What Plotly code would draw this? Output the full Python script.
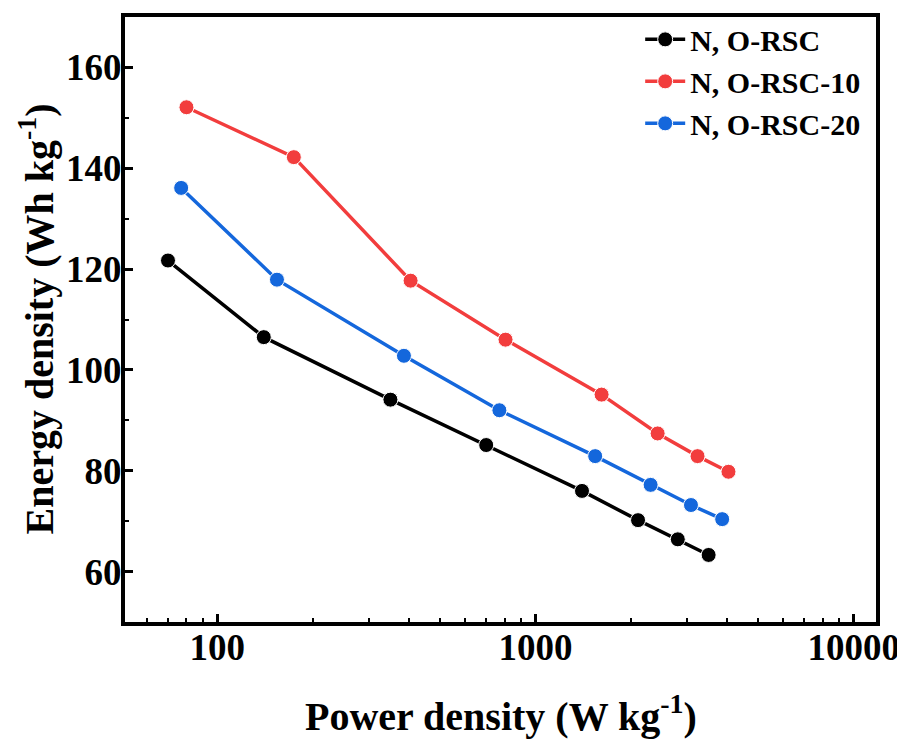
import plotly.graph_objects as go

# Data
series_names = ["N, O-RSC", "N, O-RSC-10", "N, O-RSC-20"]
power_rsc = [70, 140, 350, 700, 1400, 2100, 2800, 3500]
energy_rsc = [121.7, 106.5, 94.1, 85.1, 76.0, 70.2, 66.4, 63.3]
power_rsc10 = [80, 174, 405, 805, 1613, 2420, 3230, 4040]
energy_rsc10 = [152.1, 142.2, 117.7, 106.0, 95.1, 87.4, 82.9, 79.8]
power_rsc20 = [77, 154, 386, 770, 1540, 2300, 3080, 3860]
energy_rsc20 = [136.1, 117.9, 102.8, 92.0, 82.9, 77.2, 73.2, 70.4]
colors = ["#000000", "#F23D3D", "#1467DC"]
x_title = "Power density (W kg<sup>-1</sup>)"
y_title = "Energy density (Wh kg<sup>-1</sup>)"

FONT = "Times New Roman, Liberation Serif, serif"

fig = go.Figure()
for name, xs, ys, c in zip(series_names,
                           [power_rsc, power_rsc10, power_rsc20],
                           [energy_rsc, energy_rsc10, energy_rsc20],
                           colors):
    fig.add_trace(go.Scatter(
        x=xs, y=ys, name=name, mode="lines+markers",
        line=dict(color=c, width=3.5),
        marker=dict(color=c, size=15, line=dict(color="white", width=1)),
    ))

# page body has an 8px default margin, so the figure is sized to fit the window
fig.update_layout(
    width=897, height=732,
    margin=dict(l=117, r=29, t=9, b=118, autoexpand=False),
    plot_bgcolor="white", paper_bgcolor="white",
    font=dict(family=FONT, color="black", size=30),
    legend=dict(
        x=0.686, y=1.006, xanchor="left", yanchor="top",
        bgcolor="rgba(0,0,0,0)", borderwidth=0,
        font=dict(family=FONT, size=30, color="black", weight="bold"),
        tracegroupgap=0, itemwidth=40,
    ),
    showlegend=True,
    annotations=[
        dict(text=x_title, xref="paper", yref="paper", x=0.5, y=0,
             xanchor="center", yanchor="middle", yshift=-91, showarrow=False,
             font=dict(family=FONT, size=40, color="black", weight="bold")),
        dict(text=y_title, xref="paper", yref="paper", x=0, y=0.5,
             xanchor="center", yanchor="middle", xshift=-88, textangle=-90,
             showarrow=False,
             font=dict(family=FONT, size=40, color="black", weight="bold")),
    ],
)

fig.update_xaxes(
    type="log", range=[1.71, 4.07],
    dtick=1, tickformat="d", automargin=False,
    showline=True, linewidth=4, linecolor="black", mirror=True,
    showgrid=False, zeroline=False,
    ticks="inside", ticklen=8, tickwidth=3, tickcolor="black",
    ticklabelstandoff=-10,
    minor=dict(ticks="inside", ticklen=4, tickwidth=2, tickcolor="black", dtick="D1", showgrid=False),
    tickfont=dict(family=FONT, size=37, color="black", weight="bold"),
)

fig.update_yaxes(
    range=[50, 170],
    dtick=20, tick0=0, automargin=False,
    showline=True, linewidth=4, linecolor="black", mirror=True,
    showgrid=False, zeroline=False,
    ticks="inside", ticklen=8, tickwidth=3, tickcolor="black",
    ticklabelstandoff=-8,
    minor=dict(ticks="inside", ticklen=4, tickwidth=2, tickcolor="black", dtick=10, showgrid=False),
    tickfont=dict(family=FONT, size=37, color="black", weight="bold"),
)

fig.write_html("out.html")
